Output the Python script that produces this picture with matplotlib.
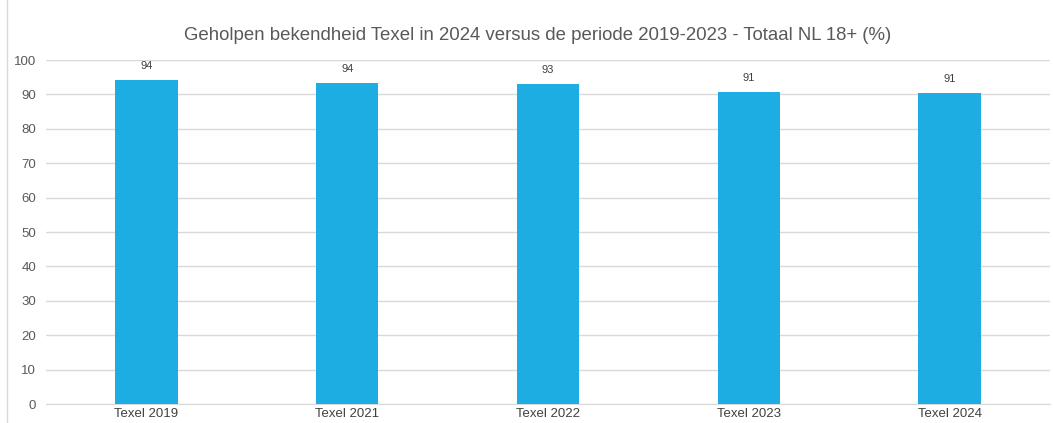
import numpy as np
import matplotlib.pyplot as plt
from matplotlib.lines import Line2D

plt.rcParams['font.family'] = ['Liberation Sans', 'DejaVu Sans']

# Data
categorieen = ['Texel 2019', 'Texel 2021', 'Texel 2022', 'Texel 2023', 'Texel 2024']
waarden = [94.3, 93.4, 92.9, 90.8, 90.4]
labels = ['94', '94', '93', '91', '91']
yticks = [0, 10, 20, 30, 40, 50, 60, 70, 80, 90, 100]

fig = plt.figure(figsize=(10.53, 4.23), dpi=100)
ax = fig.add_axes([46 / 1053, 19 / 423, 1004 / 1053, 344 / 423])

x = np.arange(len(categorieen))
bars = ax.bar(x, waarden, width=0.31, color='#1EADE3', zorder=3)

for b, lab in zip(bars, labels):
    ax.text(b.get_x() + b.get_width() / 2, b.get_height() + 2.6, lab,
            ha='center', va='bottom', fontsize=8, color='#404040')

ax.set_xlim(-0.5, len(categorieen) - 0.5)
ax.set_ylim(0, 100)
ax.set_yticks(yticks)
ax.set_xticks(x)
ax.set_xticklabels(categorieen, fontsize=9.5, color='#404040')
ax.tick_params(axis='y', labelsize=9.5, colors='#595959', length=0, pad=7)
ax.tick_params(axis='x', length=0, pad=3)
ax.grid(axis='y', color='#D9D9D9', linewidth=1, zorder=0)
for s in ['top', 'right', 'left']:
    ax.spines[s].set_visible(False)
ax.spines['bottom'].set_color('#D9D9D9')

fig.text(538 / 1053, 1 - 35 / 423,
         'Geholpen bekendheid Texel in 2024 versus de periode 2019-2023 - Totaal NL 18+ (%)',
         ha='center', va='center', fontsize=13.4, color='#595959')

# Randje links
fig.add_artist(Line2D([7 / 1053, 7 / 1053], [0, 1], transform=fig.transFigure,
                      color='#D9D9D9', linewidth=1))

plt.savefig('out.png', dpi=100)
